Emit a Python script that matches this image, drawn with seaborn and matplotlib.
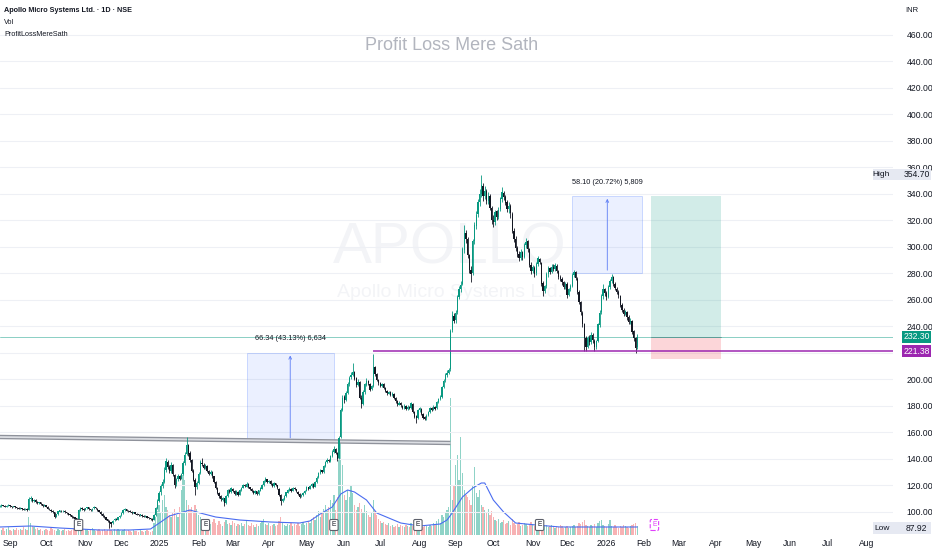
import numpy as np
import pandas as pd
import matplotlib
matplotlib.use("Agg")
import matplotlib.pyplot as plt
import matplotlib.transforms as mtransforms
from matplotlib.patches import Rectangle
import seaborn as sns

# daily candles, first bar 2024-08-23, last bar 2026-01-23
opens = [
    104.0, 104.4, 105.3, 104.9, 104.1, 104.5, 105.1, 104.3, 103.7, 104.4,
    103.5, 103.1, 102.5, 103.0, 102.3, 101.9, 102.4, 101.8, 109.5, 110.4,
    108.2, 109.0, 107.6, 106.7, 107.2, 105.8, 104.5, 105.1, 103.9, 102.6, 101.8, 100.7,
    99.7, 96.6, 98.4, 100.3, 101.1, 100.5, 101.1, 99.9, 99.1, 98.2, 97.5, 96.3,
    95.9, 95.1, 94.8, 101.6, 103.0,
    102.3, 101.7, 102.9, 103.4, 102.0, 101.5, 102.7, 103.8, 102.6,
    101.4, 100.1, 98.7, 97.2, 95.9, 94.4, 93.1, 92.1,
    91.4, 93.6, 94.9, 94.1, 96.2, 97.4, 99.1, 101.3, 102.1,
    101.1, 100.7, 100.0, 99.1, 99.7, 98.8, 98.2, 97.5, 98.1, 97.1, 96.4, 96.8, 95.9, 95.3, 94.7,
    94.2, 97.6, 102.9, 108.6, 114.8, 119.5, 122.8, 131.8,
    137.6, 133.8, 130.9, 135.4, 128.0, 120.8, 124.8, 127.0, 125.2,
    128.6, 137.2, 143.6, 150.2, 144.4, 139.0, 131.0, 124.2, 118.9,
    122.2, 129.4, 137.2, 135.6, 133.2, 135.0, 131.2, 128.4, 130.0,
    126.8, 122.6, 118.2, 114.6, 112.0, 109.4, 110.2,
    107.0, 112.4, 116.6, 115.2, 117.6, 116.0, 113.6, 115.4, 113.1,
    116.6, 118.4, 120.4, 119.2, 121.0, 118.5, 117.1,
    115.8, 114.4, 115.6, 113.8, 116.2, 117.6, 120.6, 123.4, 124.6,
    122.3, 123.2, 121.2, 119.8, 121.6, 120.0, 117.2, 113.0, 108.6,
    109.8, 112.2, 114.6, 116.4, 117.2, 116.2, 118.0, 117.2,
    115.4, 113.6, 111.8, 112.6,
    114.4, 116.0, 118.6, 117.6, 119.4, 121.0, 119.2,
    122.6, 126.2, 129.2, 131.4, 130.4, 134.6, 137.6, 139.4,
    138.6, 142.2, 145.4, 147.2, 144.6, 140.6, 156.4,
    177.2, 186.6, 184.2, 190.0, 196.4, 201.8, 203.6,
    205.6, 200.8, 196.2, 198.0, 186.4,
    181.6, 190.6, 196.2, 199.0, 196.8, 192.6, 195.2, 209.2,
    204.2, 199.6, 197.4, 195.2, 196.6, 193.4, 191.2, 189.4, 190.6, 188.4,
    189.2, 186.2, 183.6, 181.0, 182.4, 180.2, 178.8, 180.0, 178.0, 179.4,
    178.4, 181.8, 175.6, 172.2, 170.8, 176.6,
    178.0, 174.2, 171.4, 170.6, 173.0, 175.8, 178.2, 177.2, 179.4,
    178.2, 183.0, 185.6, 187.0, 194.6, 199.4, 203.4, 205.2, 207.8,
    237.4, 248.2, 244.6, 250.8, 262.4, 268.0, 272.2, 298.0, 310.4,
    306.0, 293.6, 282.8, 280.4, 304.6, 316.2,
    324.8, 333.8, 340.0, 346.4, 338.6, 342.4, 334.4, 338.6, 329.6, 320.6,
    318.8, 326.8, 322.6, 328.4, 336.4, 341.0,
    337.8, 333.6, 328.4, 331.0, 325.0, 312.4, 306.0,
    299.6, 294.8, 291.6, 296.0, 292.6, 301.4, 304.2,
    298.2, 286.6, 282.2, 284.4, 280.2, 287.0, 291.2,
    288.2, 272.6, 267.0, 270.6, 279.4, 284.0, 281.4,
    285.2, 283.6, 286.0, 282.2, 277.6, 275.6,
    273.4, 269.8, 272.2, 264.0, 268.2, 270.8, 278.6, 281.0,
    276.2, 266.0, 258.2, 250.2, 241.6, 231.0,
    224.8, 231.2, 228.2, 233.6, 229.4, 224.4, 229.0, 241.2,
    250.6, 263.0, 268.2, 265.4, 262.6, 270.0, 274.4, 277.0,
    272.2, 268.6, 266.2, 263.2, 256.4, 252.6, 249.8,
    251.2, 247.0, 243.4, 244.2, 236.4, 231.2, 224.2,
]
highs = [
    105.3, 105.8, 105.6, 105.1, 105.2, 105.7, 105.4, 104.7, 104.9, 104.8,
    103.9, 103.4, 103.6, 103.3, 102.7, 102.9, 102.8, 111.2, 111.9, 110.9,
    109.9, 109.6, 108.1, 107.9, 107.6, 106.3, 105.8, 105.6, 104.3, 103.1, 102.2, 101.2,
    100.0, 98.8, 100.9, 101.8, 101.5, 101.6, 101.4, 100.3, 99.5, 98.6, 97.9, 96.9,
    96.3, 95.6, 102.6, 104.1, 103.6,
    102.9, 103.3, 104.0, 103.8, 102.5, 103.1, 104.8, 104.1, 103.0,
    101.8, 100.5, 99.0, 97.6, 96.3, 94.9, 93.6, 92.6,
    93.9, 95.4, 95.2, 96.6, 97.9, 99.8, 102.0, 103.1, 102.6,
    101.6, 101.2, 100.4, 100.3, 100.1, 99.2, 98.7, 98.6, 98.5, 97.5, 97.4, 97.2, 96.3, 95.8, 95.1,
    98.2, 103.6, 109.5, 115.8, 121.4, 124.6, 133.6, 140.4,
    139.0, 135.2, 137.4, 136.2, 128.8, 125.8, 128.4, 128.0, 129.6,
    138.4, 145.6, 156.4, 151.4, 146.2, 140.3, 132.2, 125.6, 123.4,
    130.2, 139.2, 140.4, 136.8, 136.4, 135.8, 132.0, 131.4, 130.6,
    127.4, 123.4, 119.0, 115.2, 112.6, 111.6, 110.8,
    113.0, 117.6, 117.4, 118.6, 118.2, 116.6, 116.4, 116.0, 117.2,
    118.9, 121.4, 121.0, 122.4, 121.6, 119.0, 117.8,
    116.3, 116.4, 116.2, 116.9, 118.5, 121.2, 124.4, 126.2, 125.2,
    124.2, 123.8, 121.8, 122.6, 122.2, 120.6, 117.8, 113.6, 110.8,
    112.8, 115.4, 117.4, 118.6, 117.8, 119.0, 118.6, 117.6,
    115.8, 114.2, 113.4, 115.2,
    116.8, 119.6, 119.2, 120.2, 122.0, 121.6, 123.2,
    126.8, 130.2, 132.8, 132.0, 135.4, 138.6, 141.0, 140.2,
    143.2, 146.8, 149.6, 148.0, 145.4, 157.2, 178.6,
    188.4, 188.0, 191.2, 198.2, 203.0, 205.4, 212.4,
    206.4, 202.0, 200.2, 198.8, 188.0,
    191.8, 197.6, 201.4, 199.8, 197.6, 196.2, 219.0, 210.4,
    205.0, 200.6, 198.2, 197.6, 197.4, 194.2, 192.0, 191.6, 191.4, 190.6,
    189.8, 187.0, 184.2, 183.4, 183.2, 181.0, 181.2, 180.8, 180.4, 180.2,
    183.0, 182.6, 176.4, 173.2, 177.6, 179.0,
    178.6, 175.0, 172.2, 173.6, 176.4, 179.2, 179.0, 180.6, 180.2,
    184.0, 186.4, 188.0, 195.4, 200.4, 204.8, 206.8, 208.6, 238.4,
    251.6, 250.0, 252.6, 263.6, 270.2, 274.4, 300.2, 316.4, 312.6,
    307.4, 295.0, 286.0, 306.0, 318.6, 327.2,
    336.2, 343.8, 354.7, 348.2, 345.8, 343.4, 341.2, 340.0, 331.0, 324.2,
    328.2, 328.0, 330.4, 338.0, 345.2, 342.6,
    339.4, 335.2, 333.6, 332.2, 326.2, 314.6, 308.2,
    301.0, 297.0, 298.4, 297.2, 302.8, 306.8, 305.0,
    299.0, 288.4, 286.2, 286.0, 288.6, 293.2, 292.0,
    289.0, 274.0, 271.6, 281.0, 285.6, 285.2, 287.4,
    286.8, 288.0, 287.0, 283.0, 279.2, 277.0,
    274.6, 273.8, 273.4, 269.4, 272.0, 280.0, 283.0, 282.0,
    277.0, 267.4, 259.6, 251.4, 243.0, 233.2,
    233.0, 233.4, 236.0, 235.2, 230.4, 229.8, 243.0, 252.4,
    264.6, 272.0, 269.4, 267.0, 271.2, 276.0, 279.6, 278.4,
    273.4, 270.0, 267.6, 264.0, 258.0, 254.0, 252.6,
    252.0, 248.4, 246.2, 245.0, 237.6, 232.0, 234.6,
]
lows = [
    103.4, 104.0, 104.3, 103.6, 103.8, 104.2, 103.9, 103.2, 103.4, 103.1,
    102.5, 102.0, 102.2, 101.8, 101.2, 101.5, 101.1, 101.5, 108.6, 107.8,
    107.8, 107.1, 106.2, 106.3, 105.4, 104.1, 104.2, 103.4, 102.0, 101.4, 100.1, 99.3,
    95.8, 96.0, 98.0, 99.9, 100.1, 100.2, 99.4, 98.6, 97.6, 96.9, 95.7, 95.1,
    94.5, 94.0, 94.5, 100.9, 101.8,
    101.0, 101.2, 102.4, 101.7, 100.9, 101.0, 102.3, 102.2, 101.0,
    99.8, 98.1, 96.6, 95.4, 93.8, 92.6, 87.92, 89.0,
    91.0, 93.1, 93.6, 93.8, 95.8, 97.0, 98.8, 100.9, 100.6,
    100.2, 99.7, 98.8, 98.9, 98.2, 97.6, 97.1, 97.2, 96.6, 96.0, 96.0, 95.4, 94.8, 94.1, 93.5,
    93.8, 97.1, 102.4, 107.9, 113.2, 118.0, 121.9, 130.2,
    132.5, 129.1, 129.8, 127.2, 118.2, 119.9, 123.6, 124.1, 124.6,
    127.9, 135.8, 142.8, 142.6, 137.8, 130.0, 123.4, 113.2, 117.6,
    121.4, 128.3, 134.6, 132.1, 132.4, 130.2, 127.6, 127.8, 126.0,
    121.6, 117.2, 113.6, 110.6, 108.4, 108.6, 104.4,
    106.2, 111.6, 114.6, 114.6, 115.4, 112.8, 112.9, 112.0, 112.6,
    115.8, 117.8, 118.6, 118.6, 118.0, 116.6, 115.2,
    113.4, 113.6, 112.8, 113.2, 115.6, 117.0, 119.8, 122.6, 121.6,
    121.6, 120.4, 118.8, 119.2, 119.4, 117.6, 112.4, 105.2, 107.4,
    109.2, 111.6, 114.0, 115.8, 115.4, 115.8, 116.4, 115.0,
    112.8, 110.8, 111.0, 112.0,
    113.8, 115.6, 116.8, 117.0, 118.8, 118.4, 118.8,
    122.0, 125.4, 128.6, 129.4, 129.8, 133.8, 136.8, 137.4,
    137.8, 141.4, 144.6, 143.6, 138.8, 139.8, 155.6,
    176.0, 182.6, 183.4, 188.8, 195.0, 200.2, 202.4,
    199.4, 194.6, 195.0, 185.0, 178.4,
    180.6, 189.4, 194.8, 195.6, 191.0, 191.8, 194.6, 202.6,
    198.6, 196.0, 194.2, 194.4, 192.6, 190.2, 188.6, 188.8, 187.2, 187.6,
    185.2, 182.6, 180.2, 180.4, 179.2, 177.8, 177.8, 176.8, 177.2, 177.4,
    177.6, 174.6, 171.0, 167.2, 170.2, 175.8,
    173.2, 170.4, 169.2, 169.8, 172.4, 175.0, 176.2, 176.6, 177.2,
    177.6, 182.2, 184.6, 186.4, 193.6, 198.4, 201.8, 204.2, 206.6,
    235.6, 242.4, 243.0, 249.6, 260.6, 265.8, 271.0, 295.6, 302.8,
    292.0, 280.4, 273.4, 279.0, 302.4, 313.8,
    322.6, 330.8, 337.6, 335.0, 336.2, 332.2, 332.8, 327.6, 317.4, 314.8,
    316.6, 320.4, 320.8, 326.8, 334.2, 335.2,
    331.6, 326.2, 325.8, 322.0, 310.2, 304.0, 296.6,
    292.4, 289.6, 290.2, 290.4, 291.4, 299.2, 296.4,
    284.6, 279.8, 280.6, 277.6, 279.2, 285.4, 286.8,
    270.6, 263.2, 265.4, 269.4, 277.6, 279.6, 280.2,
    281.6, 282.2, 280.4, 276.2, 274.0, 271.6,
    268.0, 268.4, 261.4, 262.8, 266.8, 269.6, 277.0, 274.8,
    264.8, 256.6, 248.8, 239.8, 221.4, 221.8,
    223.6, 226.4, 226.8, 227.8, 221.4, 223.2, 228.2, 239.8,
    249.4, 260.4, 263.2, 260.2, 261.4, 268.6, 272.6, 270.8,
    267.2, 264.4, 261.8, 254.8, 250.6, 247.8, 248.6,
    245.2, 242.0, 241.6, 234.6, 229.4, 220.0, 223.0,
]
closes = [
    104.5, 105.2, 104.8, 104.0, 104.6, 105.0, 104.2, 103.8, 104.3, 103.6,
    103.0, 102.6, 103.1, 102.2, 101.8, 102.5, 101.6, 109.8, 110.6, 108.4,
    109.2, 107.5, 106.8, 107.4, 105.9, 104.6, 105.2, 103.8, 102.5, 101.9, 100.6, 99.8,
    96.5, 98.2, 100.4, 101.2, 100.6, 101.0, 99.8, 99.0, 98.1, 97.4, 96.2, 95.8,
    95.0, 94.6, 101.8, 103.2, 102.4,
    101.6, 102.8, 103.5, 102.1, 101.4, 102.6, 103.9, 102.7, 101.5,
    100.2, 98.6, 97.1, 96.0, 94.3, 93.2, 92.0, 91.3,
    93.5, 94.8, 94.2, 96.1, 97.3, 99.2, 101.4, 102.2, 101.0,
    100.6, 100.1, 99.2, 99.8, 98.7, 98.1, 97.6, 98.2, 97.0, 96.5, 96.9, 95.8, 95.2, 94.6, 94.1,
    97.5, 102.8, 108.4, 114.6, 119.8, 122.5, 131.5, 138.2,
    134.0, 130.6, 135.8, 128.4, 120.5, 124.6, 127.2, 125.0, 128.3,
    136.8, 143.2, 150.5, 144.0, 139.5, 131.2, 124.5, 118.6, 121.8,
    129.0, 137.6, 136.0, 133.4, 135.2, 131.0, 128.6, 130.2, 127.0,
    122.4, 118.0, 114.5, 111.8, 109.6, 110.4, 106.8,
    112.2, 116.8, 115.4, 117.9, 116.2, 113.8, 115.6, 112.9, 116.4,
    118.2, 120.6, 119.4, 121.2, 118.7, 117.3, 116.0,
    114.2, 115.8, 113.6, 116.4, 117.8, 120.4, 123.6, 124.8, 122.5,
    123.4, 121.0, 119.6, 121.8, 120.2, 118.4, 113.2, 108.4, 109.6,
    112.0, 114.8, 116.6, 117.4, 116.0, 118.2, 117.0, 115.6,
    113.4, 111.6, 112.8, 114.6,
    116.2, 118.8, 117.4, 119.6, 121.2, 119.0, 122.4,
    126.0, 129.4, 131.6, 130.2, 134.5, 137.8, 139.6, 138.4,
    142.0, 145.6, 147.4, 144.8, 140.2, 156.0, 176.8,
    186.2, 184.5, 189.6, 196.8, 201.4, 203.2, 206.0,
    200.6, 196.0, 198.4, 186.0, 181.2,
    190.8, 196.4, 199.2, 197.0, 192.4, 195.0, 209.6, 204.0,
    199.8, 197.2, 195.4, 196.8, 193.6, 191.0, 189.6, 190.8, 188.2, 189.4,
    186.0, 183.4, 181.2, 182.6, 180.4, 178.6, 180.2, 177.8, 179.6, 178.2,
    182.0, 175.4, 172.0, 170.6, 176.8, 178.2,
    174.0, 171.2, 170.4, 172.8, 175.6, 178.4, 177.0, 179.6, 178.0,
    183.2, 185.4, 186.8, 194.5, 199.2, 203.6, 205.0, 207.4, 236.8,
    248.6, 244.2, 250.4, 262.0, 268.4, 271.6, 298.4, 310.8, 306.2,
    294.0, 282.6, 279.8, 304.2, 316.8, 324.4,
    333.6, 340.2, 346.8, 338.4, 342.0, 334.6, 338.8, 329.4, 320.2, 318.6,
    326.4, 322.8, 328.0, 336.6, 341.2, 338.0,
    333.4, 328.6, 331.2, 325.4, 312.0, 306.4, 299.2,
    294.6, 291.8, 296.2, 292.4, 301.6, 304.0, 298.6,
    286.4, 282.0, 284.6, 279.8, 287.2, 291.4, 288.6,
    272.4, 266.8, 270.2, 279.6, 283.8, 281.2, 285.0,
    283.4, 286.2, 282.0, 277.4, 275.8, 273.2,
    269.6, 272.4, 263.8, 268.0, 270.6, 278.8, 281.2, 276.4,
    266.2, 258.4, 250.6, 241.8, 231.2, 224.6,
    231.4, 228.0, 233.8, 229.6, 224.2, 228.8, 241.6, 250.2,
    262.8, 268.4, 265.6, 262.4, 269.8, 274.6, 277.2, 272.4,
    268.8, 266.0, 263.4, 256.2, 252.8, 249.6, 251.4,
    246.8, 243.6, 244.4, 236.2, 231.4, 223.8, 232.3,
]
# volume in relative units (height inside the price pane)
volumes = [
    6, 5, 7, 4, 6, 8, 5, 4, 6, 5, 7, 5, 6, 5, 8, 6, 5, 18, 12, 9,
    8, 6, 7, 5, 6, 4, 5, 6, 5, 4, 7, 6, 5, 4, 6, 5, 4, 5, 6, 4,
    5, 4, 5, 6, 5, 6, 13, 8, 6, 5, 6, 5, 4, 6, 7, 5, 4, 5, 6, 4,
    5, 6, 4, 5, 7, 5, 4, 6, 5, 6, 5, 4, 5, 6, 4, 5, 4, 3, 5, 4,
    4, 3, 5, 4, 3, 4, 5, 4, 3, 4, 12, 18, 24, 30, 22, 35, 40, 28, 25, 20,
    18, 22, 26, 20, 18, 28, 45, 60, 55, 35, 30, 25, 28, 22, 30, 26, 20, 18, 16, 15,
    14, 12, 15, 11, 13, 16, 12, 10, 14, 11, 9, 13, 15, 11, 12, 10, 14, 12, 9, 11,
    10, 12, 9, 11, 14, 10, 9, 12, 10, 8, 11, 9, 12, 14, 16, 11, 10, 12, 9, 10,
    11, 9, 10, 14, 18, 12, 10, 9, 11, 10, 12, 9, 11, 10, 12, 9, 11, 13, 10, 12,
    14, 12, 16, 18, 15, 20, 24, 18, 22, 26, 30, 24, 28, 35, 32, 40, 25, 38, 92, 95,
    70, 40, 35, 45, 38, 50, 42, 30, 25, 28, 32, 26, 22, 30, 24, 20, 18, 22, 35, 24,
    20, 16, 14, 12, 13, 11, 10, 12, 9, 10, 8, 9, 11, 8, 10, 9, 8, 10, 9, 8,
    12, 9, 14, 10, 8, 9, 11, 8, 10, 9, 8, 10, 9, 12, 10, 14, 16, 12, 20, 18,
    22, 25, 28, 137, 35, 50, 70, 80, 55, 98, 62, 45, 40, 38, 35, 30, 50, 68, 42, 38,
    45, 30, 28, 25, 22, 26, 20, 24, 18, 15, 14, 16, 12, 13, 15, 11, 12, 14, 10, 16,
    12, 10, 11, 13, 9, 10, 12, 11, 9, 10, 13, 11, 9, 10, 12, 8, 14, 11, 9, 10,
    8, 9, 10, 8, 7, 9, 8, 10, 9, 7, 8, 9, 7, 8, 9, 10, 8, 9, 12, 11,
    13, 15, 10, 9, 8, 10, 9, 11, 8, 12, 14, 15, 10, 9, 8, 11, 15, 9, 8, 10,
    8, 7, 9, 8, 10, 9, 8, 7, 9, 10, 11, 12, 9,
]
# volume moving average (bar index from 2024-09-02)
vol_ma_idx = [-6, 12, 29, 52, 70, 82, 88, 93, 99, 105, 111, 120, 134, 152, 169, 175, 181,
              188, 193, 197, 201, 208, 214, 228, 239, 251, 255, 258, 264, 270, 275, 277,
              282, 288, 295, 307, 321, 344, 366]
vol_ma = [8, 9, 7, 5, 5, 6, 13, 19, 22, 25, 22, 18, 15, 13, 12, 14, 21,
          28, 41, 45, 43, 35, 22, 12, 9, 11, 15, 22, 38, 47, 52, 52,
          35, 23, 12, 10, 8, 8, 8]

earnings_idx = [40, 114, 189, 238, 309]
next_earnings_idx = 376

price_ticks = list(range(100, 461, 20))
hidden_ticks = [220]  # covered by the 221.38 marker on the scale
last_price = 232.30
support_price = 221.38
support_start = 212
high_price = 354.70
low_price = 87.92

trend_x = [-6, 257]
trend_y = [156.6, 152.1]

measures = [
    (138, 189, 153.86, 220.20, "66.34 (43.13%) 6,634"),
    (328, 369, 280.40, 338.50, "58.10 (20.72%) 5,809"),
]
long_x = (374, 415)
long_target = 338.50
long_stop = 215.40

n = len(closes)
assert len(opens) == n and len(highs) == n and len(lows) == n and len(volumes) == n

# ---- axis layout (pixels of a 932x550 canvas) ----
W, H = 932, 550
plot_w, plot_h, bottom_px = 893, 535, 15
x_left, x_right = -5.83, 515.2
y_low, y_high = 82.64, 486.4

sns.set_theme(style="white")
plt.rcParams['font.family'] = ['Liberation Sans', 'DejaVu Sans']

fig = plt.figure(figsize=(W / 100, H / 100), dpi=100)
fig.patch.set_facecolor("white")
ax = fig.add_axes([0, bottom_px / H, plot_w / W, plot_h / H])
ax2 = ax.twinx()
ax.set_zorder(2)
ax2.set_zorder(1)
ax.patch.set_visible(False)

days = pd.bdate_range("2024-08-23", "2026-08-31")
day_idx = np.arange(len(days)) - 6
bar_x = day_idx[:n]

o = np.array(opens); h = np.array(highs); l = np.array(lows); c = np.array(closes)
up = c >= o
body_lo = np.minimum(o, c)
body_h = np.maximum(np.abs(c - o), 0.35)
candle_col = np.where(up, "#089981", "#131722")

# volume
vol_col = np.where(up, "#8fd3c7", "#f7b2b4")
ax2.bar(bar_x, volumes, width=0.75, color=vol_col, linewidth=0, zorder=1)
sns.lineplot(x=vol_ma_idx, y=vol_ma, ax=ax2, color="#4a6cf0", linewidth=0.8, zorder=2)
ax2.set_ylim(0, plot_h)
ax2.set_yticks([])
ax2.set_ylabel("")
for s in ax2.spines.values():
    s.set_visible(False)

# watermark
ax2.text(0.504, 0.536, "APOLLO", transform=ax2.transAxes, fontsize=42,
         color="#f3f4f7", ha="center", va="center", zorder=0)
ax2.text(0.504, 0.454, "Apollo Micro Systems Ltd.", transform=ax2.transAxes,
         fontsize=14, color="#f3f4f7", ha="center", va="center", zorder=0)

# candles
ax.vlines(bar_x, np.minimum(l, body_lo), np.maximum(h, body_lo + body_h),
          colors=candle_col, linewidth=0.6, zorder=4)
ax.bar(bar_x, body_h, bottom=body_lo, width=0.75, color=candle_col, linewidth=0, zorder=4)

# drawings
ax.plot(trend_x, trend_y, color="#8f929b", lw=3.2, solid_capstyle="butt", zorder=3)
ax.plot(trend_x, trend_y, color="#dcdee3", lw=1.3, solid_capstyle="butt", zorder=3)

for x0, x1, lo, hi, label in measures:
    ax.add_patch(Rectangle((x0, lo), x1 - x0, hi - lo, facecolor=(0.16, 0.38, 1.0, 0.09),
                           edgecolor=(0.16, 0.38, 1.0, 0.25), lw=0.6, zorder=2))
    mid = (x0 + x1) / 2
    ax.annotate("", xy=(mid, hi), xytext=(mid, lo),
                arrowprops=dict(arrowstyle="->", color="#5b7cf5", lw=0.6, mutation_scale=5),
                zorder=3)
    ax.annotate(label, xy=(mid, hi), xytext=(0, 10), textcoords="offset points",
                ha="center", va="center", fontsize=5.3, color="#131722", zorder=5)

ax.add_patch(Rectangle((long_x[0], last_price), long_x[1] - long_x[0], long_target - last_price,
                       facecolor=(0.03, 0.6, 0.5, 0.18), edgecolor="none", zorder=2))
ax.add_patch(Rectangle((long_x[0], long_stop), long_x[1] - long_x[0], last_price - long_stop,
                       facecolor=(0.95, 0.21, 0.27, 0.2), edgecolor="none", zorder=2))
ax.plot(long_x, [last_price, last_price], color="#9598a1", lw=0.6, zorder=3)

ax.axhline(last_price, color="#089981", lw=0.6, alpha=0.55, zorder=3)
ax.hlines(support_price, support_start, x_right, color="#9c27b0", lw=1.1, zorder=5)

# earnings markers
tr_e = mtransforms.blended_transform_factory(ax.transData, ax.transAxes)
for e in earnings_idx:
    ax.text(e, 10 / plot_h, "E", transform=tr_e, fontsize=4.8, color="#131722",
            ha="center", va="center", zorder=6,
            bbox=dict(boxstyle="round,pad=0.3,rounding_size=0.2", fc="white", ec="#5d606b", lw=0.8))
ax.text(next_earnings_idx, 10 / plot_h, "E", transform=tr_e, fontsize=4.8, color="#e040fb",
        ha="center", va="center", zorder=6,
        bbox=dict(boxstyle="round,pad=0.3,rounding_size=0.2", fc="white", ec="#e040fb",
                  lw=0.8, ls="--"))

# axes
ax.set_xlim(x_left, x_right)
ax.set_ylim(y_low, y_high)
month_pos, month_lab = [], []
for i in range(1, len(days)):
    if days[i].month != days[i - 1].month:
        month_pos.append(day_idx[i])
        month_lab.append(str(days[i].year) if days[i].month == 1 else days[i].strftime("%b"))
ax.set_xticks(month_pos)
ax.set_xticklabels(month_lab)
ax.yaxis.tick_right()
ax.set_yticks(price_ticks)
ax.set_yticklabels(["" if p in hidden_ticks else f"{p:.2f}" for p in price_ticks])
ax.tick_params(axis="x", length=0, pad=3, labelsize=6.2, labelcolor="#131722")
ax.tick_params(axis="y", length=0, pad=10, labelsize=6.2, labelcolor="#131722")
ax.grid(axis="y", color="#eef0f5", lw=0.8)
ax.grid(axis="x", visible=False)
for s in ax.spines.values():
    s.set_visible(False)

# price scale labels
tr_p = mtransforms.blended_transform_factory(ax.transAxes, ax.transData)
fx = lambda px: px / plot_w
half = 4.4
for val, fc, tc in [(last_price, "#089981", "white"), (support_price, "#9c27b0", "white")]:
    ax.add_patch(Rectangle((fx(902), val - half), fx(29), 2 * half, transform=tr_p,
                           facecolor=fc, edgecolor="none", clip_on=False, zorder=7))
    ax.text(fx(916.5), val, f"{val:.2f}", transform=tr_p, ha="center", va="center",
            fontsize=6.2, color=tc, clip_on=False, zorder=8)
for name, val in [("High", high_price), ("Low", low_price)]:
    ax.add_patch(Rectangle((fx(873), val - half), fx(58), 2 * half, transform=tr_p,
                           facecolor="#e6e9f2", edgecolor="none", clip_on=False, zorder=7))
    ax.text(fx(890), val, name, transform=tr_p, ha="right", va="center",
            fontsize=6.0, color="#131722", clip_on=False, zorder=8)
    ax.text(fx(916.5), val, f"{val:.2f}", transform=tr_p, ha="center", va="center",
            fontsize=6.2, color="#131722", clip_on=False, zorder=8)

# header and title
fig.text(4 / W, 1 - 10 / H, "Apollo Micro Systems Ltd. · 1D · NSE", fontsize=5.2,
         fontweight="bold", color="#131722", va="center")
fig.text(4 / W, 1 - 22 / H, "Vol", fontsize=5.2, color="#131722", va="center")
fig.text(4 / W, 1 - 34 / H, "ProfitLossMereSath", fontsize=5.2, color="#131722", va="center")
fig.text(912 / W, 1 - 10 / H, "INR", fontsize=5.5, color="#131722", ha="center", va="center")
fig.text(452 / W, 1 - 45 / H, "Profit Loss Mere Sath", fontsize=13, color="#b2b5be",
         ha="center", va="center")

fig.savefig("out.png", dpi=100, facecolor="white")
